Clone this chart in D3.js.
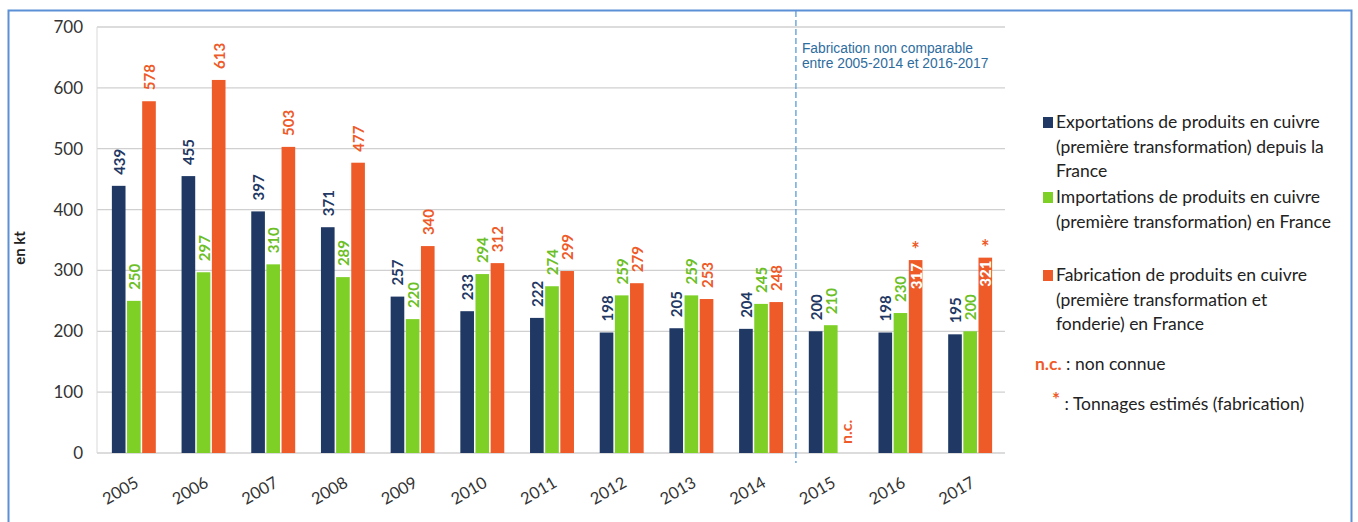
<!DOCTYPE html>
<html><head><meta charset="utf-8">
<script src="https://cdn.jsdelivr.net/npm/d3@7"></script>
<style>body{margin:0;background:#fff}svg{display:block}</style>
</head><body>
<svg id="c" width="1358" height="522"></svg>
<script>
const years = ["2005","2006","2007","2008","2009","2010","2011","2012","2013","2014","2015","2016","2017"];
const exportsKt = [439,455,397,371,257,233,222,198,205,204,200,198,195];
const importsKt = [250,297,310,289,220,294,274,259,259,245,210,230,200];
const fabricationKt = [578,613,503,477,340,312,299,279,253,248,null,317,321];
const estimatedYears = ["2016","2017"];
const yTicks = [0,100,200,300,400,500,600,700];
const seriesNames = [
  ["Exportations de produits en cuivre","(première transformation) depuis la","France"],
  ["Importations de produits en cuivre","(première transformation) en France"],
  ["Fabrication de produits en cuivre","(première transformation et","fonderie) en France"]
];
const colors = ["#1F3864","#7ED027","#EE5A28"];
const labelColors = ["#1F3864","#6CBF26","#EE5A28"];

const svg = d3.select("#c");
const FONT = "Lato, 'Open Sans', sans-serif";
// frame
svg.append("rect").attr("x",8.5).attr("y",10.5).attr("width",1343).attr("height",530)
  .attr("fill","none").attr("stroke","#5B8FD6").attr("stroke-width",2);

const x0 = d3.scaleBand().domain(years).range([99,1005]);
const x1 = d3.scaleBand().domain([0,1,2]).range([0,x0.bandwidth()]).paddingInner(0.1).paddingOuter(0.85);
const y = d3.scaleLinear().domain([0,700]).range([453,27]);

// grid
svg.append("g").selectAll("line").data(yTicks).join("line")
  .attr("x1",97).attr("x2",1005).attr("y1",d=>y(d)).attr("y2",d=>y(d))
  .attr("stroke","#D0D0D0").attr("stroke-width",1.3);
svg.append("line").attr("x1",97).attr("x2",97).attr("y1",y(700)).attr("y2",y(0)).attr("stroke","#D9D9D9");

// y axis
const yAxis = d3.axisLeft(y).tickValues(yTicks).tickSize(0).tickPadding(14);
const gy = svg.append("g").attr("transform","translate(97,0)").call(yAxis);
gy.select(".domain").remove();
gy.selectAll("text").attr("font-family",FONT).attr("font-size",17).attr("fill","#333");

// x axis
const xAxis = d3.axisBottom(x0).tickSize(0).tickPadding(0);
const gx = svg.append("g").attr("transform","translate(0,453)").call(xAxis);
gx.select(".domain").remove();
gx.selectAll("text").attr("font-family",FONT).attr("font-size",16.5).attr("fill","#333")
  .attr("text-anchor","end").attr("dy",0)
  .attr("transform","translate(6,33) rotate(-30)");

// y label
svg.append("text").attr("transform","translate(25,248) rotate(-90)").attr("text-anchor","middle")
  .attr("font-family",FONT).attr("font-size",15).attr("font-weight","bold").attr("fill","#222").text("en kt");

// bars
const all = [exportsKt, importsKt, fabricationKt];
all.forEach((vals,si)=>{
  const g = svg.append("g");
  years.forEach((yr,i)=>{
    const v = vals[i];
    const bx = x0(yr)+x1(si);
    const bw = x1.bandwidth();
    if (v==null) {
      g.append("text").attr("transform",`translate(${bx+bw/2+6},444) rotate(-90)`)
        .attr("font-family",FONT).attr("font-size",16).attr("font-weight","bold")
        .attr("fill",labelColors[si]).text("n.c.");
      return;
    }
    g.append("rect").attr("x",bx).attr("y",y(v)).attr("width",bw).attr("height",y(0)-y(v)).attr("fill",colors[si]);
    const inside = si===2 && estimatedYears.includes(yr);
    if (inside) {
      g.append("text").attr("transform",`translate(${bx+bw/2+6},${y(v)+3}) rotate(-90)`)
        .attr("text-anchor","end").attr("font-family",FONT).attr("font-size",15).attr("font-weight","900")
        .attr("fill","#fff").text(v);
      g.append("text").attr("x",bx+bw/2).attr("y",y(v)-3).attr("text-anchor","middle")
        .attr("font-family",FONT).attr("font-size",20).attr("font-weight","bold")
        .attr("fill",labelColors[si]).text("*");
    } else {
      g.append("text").attr("transform",`translate(${bx+bw/2+6},${y(v)-11}) rotate(-90)`)
        .attr("text-anchor","start").attr("font-family",FONT).attr("font-size",15).attr("font-weight","bold")
        .attr("fill",labelColors[si]).text(v);
    }
  });
});

// dashed separator
const sepX = x0("2015");
svg.append("line").attr("x1",sepX).attr("x2",sepX).attr("y1",11).attr("y2",y(0)+10)
  .attr("stroke","#5B9BD5").attr("stroke-width",1.3).attr("stroke-dasharray","6,3");
svg.append("text").attr("x",sepX+6).attr("y",53).attr("font-family","'Liberation Sans', Arial, sans-serif")
  .attr("font-size",13.8).attr("fill","#2E6C9E").text("Fabrication non comparable");
svg.append("text").attr("x",sepX+6).attr("y",68).attr("font-family","'Liberation Sans', Arial, sans-serif")
  .attr("font-size",13.8).attr("fill","#2E6C9E").text("entre 2005-2014 et 2016-2017");

// legend
const legY = [128, 203, 281];
const lg = svg.append("g");
seriesNames.forEach((lines,si)=>{
  lg.append("rect").attr("x",1043).attr("y",legY[si]-11).attr("width",10).attr("height",11).attr("fill",colors[si]);
  lines.forEach((t,j)=>{
    lg.append("text").attr("x",1056).attr("y",legY[si]+j*24.5).attr("font-family",FONT)
      .attr("font-size",17.5).attr("fill","#222").text(t);
  });
});
const nc = lg.append("text").attr("x",1035).attr("y",370).attr("font-family",FONT).attr("font-size",17.5).attr("fill","#222");
nc.append("tspan").attr("fill","#EE5A28").attr("font-weight","bold").text("n.c.");
nc.append("tspan").text(" : non connue");
const st = lg.append("text").attr("x",1052).attr("y",410).attr("font-family",FONT).attr("font-size",17.5).attr("fill","#222");
st.append("tspan").attr("fill","#EE5A28").attr("font-weight","bold").attr("font-size",19).attr("dy",-4).text("*");
st.append("tspan").attr("dy",4).text(" : Tonnages estimés (fabrication)");
</script>
</body></html>
